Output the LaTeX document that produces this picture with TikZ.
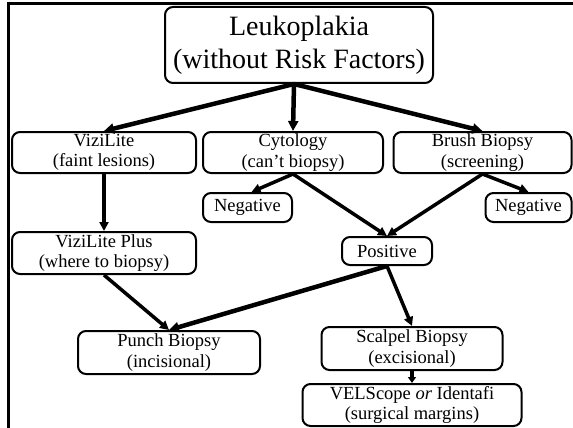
\documentclass[tikz,border=0pt]{standalone}
\usepackage{fontspec}
\setmainfont{Liberation Serif}
\usetikzlibrary{arrows.meta}
\begin{document}
\begin{tikzpicture}[x=1pt,y=-1pt,
  box/.style={draw,line width=2pt,rounded corners=8pt,align=center,inner sep=0pt,
    font=\fontsize{18.5}{20.5}\selectfont},
  conn/.style={line width=3.5pt,-{Triangle[length=9pt,width=9pt]}},
  bigconn/.style={line width=4.5pt,-{Triangle[length=10pt,width=10pt]}}]
\useasboundingbox (0,0) rectangle (573,428);
\draw[line width=3pt] (8.5,428) -- (8.5,3.5) -- (573,3.5);
\node[box,minimum width=268pt,minimum height=76pt,font=\fontsize{28}{33}\selectfont] (top) at (299,45) {Leukoplakia\\(without Risk Factors)};
\node[box,minimum width=184pt,minimum height=41pt] (vizi) at (104,152.5) {ViziLite\\(faint lesions)};
\node[box,minimum width=180pt,minimum height=41pt] (cyto) at (293,152.5) {Cytology\\(can’t biopsy)};
\node[box,minimum width=178pt,minimum height=41pt] (brush) at (482.5,152.5) {Brush Biopsy\\(screening)};
\node[box,minimum width=89pt,minimum height=29pt] (negL) at (247.5,207.5) {Negative};
\node[box,minimum width=86pt,minimum height=29pt] (negR) at (528.5,207.5) {Negative};
\node[box,minimum width=184pt,minimum height=42pt] (viziplus) at (104,253) {ViziLite Plus\\(where to biopsy)};
\node[box,minimum width=90pt,minimum height=28pt] (pos) at (387,251) {Positive};
\node[box,minimum width=182pt,minimum height=43pt] (punch) at (169,352.5) {Punch Biopsy\\(incisional)};
\node[box,minimum width=181pt,minimum height=43pt] (scalpel) at (412,348.5) {Scalpel Biopsy\\(excisional)};
\node[box,minimum width=219pt,minimum height=42pt] (vel) at (412,405) {VELScope \textit{or} Identafi\\(surgical margins)};
\draw[bigconn] ([xshift=-5pt]top.south) -- (vizi.north);
\draw[bigconn] ([xshift=-5pt]top.south) -- (cyto.north);
\draw[bigconn] ([xshift=-5pt]top.south) -- (brush.north);
\draw[conn] (cyto.south) -- ([xshift=4pt]negL.north);
\draw[conn] (cyto.south) -- (pos.north);
\draw[conn] (brush.south) -- (pos.north);
\draw[conn] (brush.south) -- (negR.north);
\draw[conn] (vizi.south) -- (viziplus.north);
\draw[conn] (viziplus.south) -- (punch.north);
\draw[bigconn] (pos.south) -- (punch.north);
\draw[conn] (pos.south) -- (scalpel.north);
\draw[conn,-{Triangle[length=6pt,width=8pt]}] (scalpel.south) -- (vel.north);
\end{tikzpicture}
\end{document}
